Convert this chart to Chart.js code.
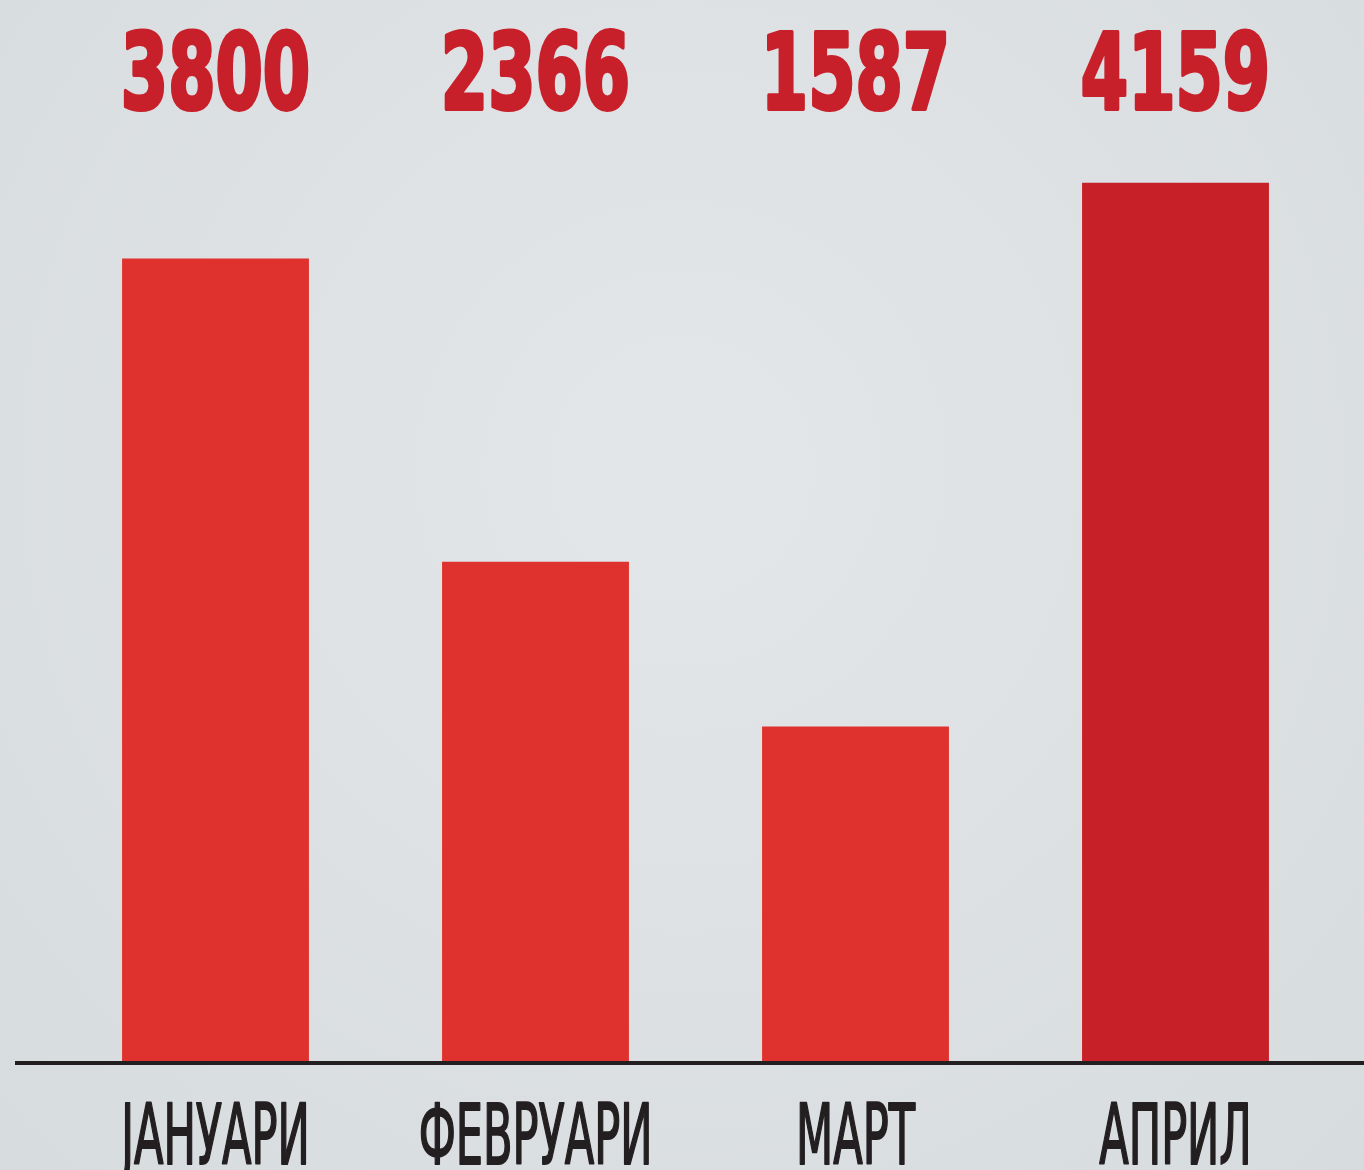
<!DOCTYPE html>
<html>
<head>
<meta charset="utf-8">
<script src="https://cdn.jsdelivr.net/npm/chart.js@4.4.1/dist/chart.umd.min.js"></script>
<style>
  html, body { margin: 0; padding: 0; background: #dce0e3; }
  #wrap { width: 1364px; height: 1170px; }
</style>
</head>
<body>
<div id="wrap"><canvas id="grafik"></canvas></div>
<script>
const meseci = ["ЈАНУАРИ", "ФЕВРУАРИ", "МАРТ", "АПРИЛ"];
const vrednosti = [3800, 2366, 1587, 4159];
const boje = ["#df322e", "#df322e", "#df322e", "#c72029"];

const plugin_pozadina = {
  id: "pozadina",
  beforeDraw: (chart) => {
    const ctx = chart.ctx;
    const w = chart.width, h = chart.height;
    const g = ctx.createRadialGradient(w * 0.5, h * 0.4, 50, w * 0.5, h * 0.4, w * 0.75);
    g.addColorStop(0, "#e3e6e8");
    g.addColorStop(1, "#d6dbde");
    ctx.save();
    ctx.fillStyle = g;
    ctx.fillRect(0, 0, w, h);
    ctx.restore();
  },
};

const plugin_natpisi = {
  id: "natpisi",
  afterDatasetsDraw: (chart) => {
    const ctx = chart.ctx;
    const x = chart.scales.x;
    const y = chart.scales.y;
    const dno = y.getPixelForValue(0);
    ctx.save();
    // osnovna linija
    ctx.strokeStyle = "#231f20";
    ctx.lineWidth = 4;
    ctx.beginPath();
    ctx.moveTo(15, dno + 1);
    ctx.lineTo(chart.width, dno + 1);
    ctx.stroke();

    ctx.textAlign = "center";
    ctx.textBaseline = "alphabetic";
    ctx.lineJoin = "round";
    vrednosti.forEach((v, i) => {
      const cx = x.getPixelForValue(i);
      // vrednost iznad
      ctx.save();
      ctx.translate(cx, 109);
      ctx.scale(0.72, 1);
      ctx.fillStyle = "#c8202a";
      ctx.strokeStyle = "#c8202a";
      ctx.lineWidth = 4;
      ctx.font = "bold 105px 'DejaVu Sans Condensed', 'Liberation Sans Narrow', sans-serif";
      ctx.fillText(String(v), 0, 0);
      ctx.strokeText(String(v), 0, 0);
      ctx.restore();
      // mesec ispod
      ctx.save();
      ctx.translate(cx, 1164);
      ctx.scale(0.57, 1);
      ctx.fillStyle = "#231f20";
      ctx.strokeStyle = "#231f20";
      ctx.lineWidth = 2;
      ctx.font = "84px 'DejaVu Sans Condensed', 'Liberation Sans Narrow', sans-serif";
      ctx.fillText(meseci[i], 0, 0);
      ctx.strokeText(meseci[i], 0, 0);
      ctx.restore();
    });
    ctx.restore();
  },
};

const ctx = document.getElementById("grafik").getContext("2d");
const chart_meseci = new Chart(ctx, {
  type: "bar",
  data: {
    labels: meseci,
    datasets: [
      {
        label: "Broj",
        data: vrednosti,
        backgroundColor: boje,
        borderWidth: 0,
        barPercentage: 0.584,
        categoryPercentage: 1,
      },
    ],
  },
  options: {
    responsive: true,
    maintainAspectRatio: false,
    animation: false,
    layout: {
      padding: { top: 62, bottom: 108, left: 55.5, right: 28.5 },
    },
    plugins: {
      legend: { display: false },
      tooltip: { enabled: false },
    },
    scales: {
      x: {
        display: false,
      },
      y: {
        display: false,
        min: 0,
        max: 4730,
      },
    },
  },
  plugins: [plugin_pozadina, plugin_natpisi],
});
</script>
</body>
</html>
